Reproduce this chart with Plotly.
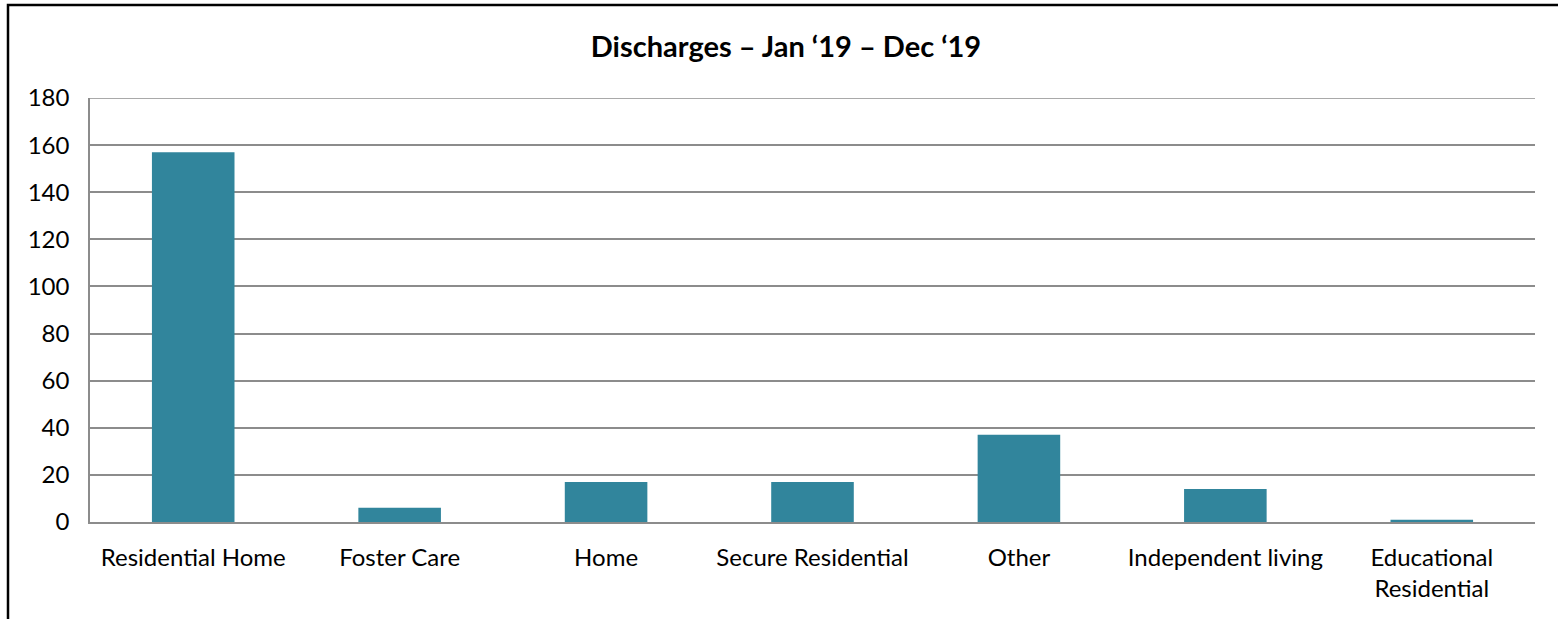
import plotly.graph_objects as go

categories = ["Residential Home", "Foster Care", "Home", "Secure Residential",
              "Other", "Independent living", "Educational<br>Residential"]
values = [157, 6, 17, 17, 37, 14, 1]
y_ticks = [0, 20, 40, 60, 80, 100, 120, 140, 160, 180]

W, H = 1558, 619
L, R, T, B = 90, 23, 98, 97
pw, ph = W - L - R, H - T - B

fig = go.Figure(go.Bar(x=categories, y=values, marker_color="#31859C",
                       marker_line_width=0, width=0.4))

font = "Lato, 'Open Sans', sans-serif"
fig.update_layout(
    width=W, height=H,
    margin=dict(l=L, r=R, t=T, b=B),
    paper_bgcolor="white", plot_bgcolor="white",
    title=dict(text="<b>Discharges – Jan ‘19 – Dec ‘19</b>", x=786 / W, xanchor="center",
               y=1 - 47 / H, yanchor="middle", font=dict(family=font, size=29, color="black")),
    font=dict(family=font, size=24, color="black"),
    showlegend=False,
    bargap=0.6,
)
fig.update_yaxes(range=[0, 180], tickvals=y_ticks, showgrid=True, gridcolor="#8c8c8c",
                 gridwidth=1.5, showline=True, linecolor="#8c8c8c", linewidth=1.5,
                 ticks="", ticklabelstandoff=14, zeroline=False,
                 tickfont=dict(family=font, size=24, color="black"))
fig.update_xaxes(showline=True, linecolor="#8c8c8c", linewidth=2, ticks="",
                 ticklabelstandoff=13, tickangle=0,
                 tickfont=dict(family=font, size=24, color="black"))

# top gridline at the range edge
fig.add_shape(type="line", xref="paper", yref="y", x0=0, x1=1, y0=180, y1=180,
              line=dict(color="#8c8c8c", width=1.5))

# chart border
fig.add_shape(type="rect", xref="paper", yref="paper",
              x0=(8 - L) / pw, x1=(W + 20 - L) / pw,
              y0=-(B + 20) / ph, y1=1 + (T - 5) / ph,
              line=dict(color="black", width=2.5), layer="above")

fig.write_html("out.html")
